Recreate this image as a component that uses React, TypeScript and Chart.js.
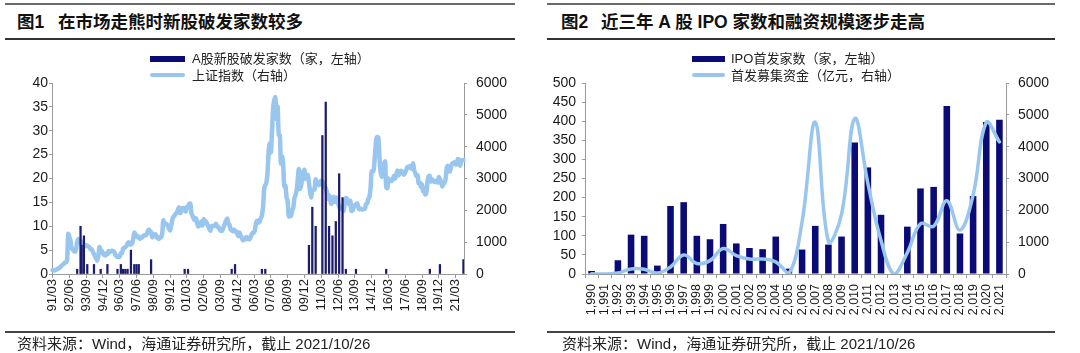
import React, { useEffect, useRef } from 'react';
import { Chart, registerables } from 'chart.js';

Chart.register(...registerables);

const LATIN = "'Liberation Sans', Arial, sans-serif";
const MIXED = "'Liberation Sans', 'Noto Sans CJK SC', sans-serif";

const NAVY = '#0b0b78';
const NAVY_THIN = '#1c1c6e';
const LIGHT_BLUE = '#99c6ee';
const AXIS_GREY = '#9a9a9a';
const TEXT = '#1a1a1a';

// ---------------- Figure 1 data ----------------
const fig1FirstMonth = { year: 1991, month: 3 };
const fig1LastMonth = { year: 2021, month: 10 };
const fig1LabelEvery = 15;

function buildMonthLabels(): string[] {
  const out: string[] = [];
  let y = fig1FirstMonth.year;
  let m = fig1FirstMonth.month;
  while (y < fig1LastMonth.year || (y === fig1LastMonth.year && m <= fig1LastMonth.month)) {
    out.push(String(y % 100).padStart(2, '0') + '/' + String(m).padStart(2, '0'));
    m += 1;
    if (m > 12) { m = 1; y += 1; }
  }
  return out;
}
const fig1Months = buildMonthLabels();

// 上证指数, monthly, 1991/03 .. 2021/10
const sseIndex: number[] = [
  125, 115, 112, 136, 145, 180, 180, 218, 260, 292,
  313, 364, 371, 445, 1266, 1168, 1048, 820, 780, 720, 700, 780,
  1000, 1100, 1000, 1050, 980, 960, 900, 880, 900, 880, 870, 833,
  780, 770, 700, 620, 560, 480, 420, 600, 850, 750, 720, 650,
  600, 580, 650, 620, 720, 680, 720, 730, 720, 700, 620, 555,
  540, 540, 550, 650, 650, 800, 820, 850, 880, 960, 1000, 917,
  930, 960, 1100, 1300, 1250, 1200, 1150, 1180, 1100, 1150, 1150, 1194,
  1220, 1210, 1240, 1340, 1400, 1340, 1320, 1150, 1250, 1220, 1250, 1147,
  1130, 1100, 1160, 1150, 1300, 1690, 1600, 1580, 1560, 1510, 1420, 1367,
  1530, 1714, 1800, 1836, 1894, 1928, 2023, 2100, 1910, 1960, 2070, 2073,
  2065, 1960, 2110, 2120, 2214, 2218, 1920, 1834, 1740, 1690, 1750, 1646,
  1490, 1520, 1600, 1650, 1520, 1730, 1660, 1650, 1580, 1510, 1430, 1357,
  1500, 1510, 1510, 1520, 1580, 1490, 1480, 1420, 1370, 1350, 1400, 1497,
  1590, 1680, 1740, 1590, 1550, 1400, 1390, 1340, 1400, 1320, 1340, 1266,
  1190, 1300, 1180, 1160, 1060, 1080, 1080, 1160, 1155, 1090, 1100, 1161,
  1260, 1300, 1300, 1440, 1640, 1670, 1610, 1660, 1750, 1840, 2100, 2675,
  2790, 2880, 3180, 3840, 4110, 3820, 4470, 5220, 5450, 5560, 4870, 5260,
  4380, 4350, 3470, 3690, 3430, 2740, 2780, 2400, 2290, 1800, 1870, 1820,
  1990, 2080, 2370, 2480, 2630, 2960, 3300, 2670, 2780, 2990, 3200, 3277,
  2990, 3050, 3110, 2870, 2590, 2400, 2640, 2640, 2660, 2980, 2820, 2810,
  2790, 2900, 2930, 2910, 2740, 2760, 2700, 2570, 2360, 2470, 2330, 2200,
  2290, 2430, 2260, 2400, 2370, 2230, 2100, 2050, 2090, 2070, 1980, 2270,
  2390, 2360, 2240, 2180, 2300, 1980, 1990, 2100, 2170, 2140, 2220, 2116,
  2030, 2060, 2030, 2030, 2040, 2050, 2200, 2220, 2360, 2420, 2680, 3230,
  3210, 3310, 3750, 4200, 4300, 4280, 3660, 3210, 3050, 3380, 3450, 3540,
  2740, 2690, 3000, 2940, 2920, 2930, 2980, 3090, 3000, 3100, 3250, 3100,
  3160, 3240, 3220, 3150, 3120, 3190, 3270, 3360, 3350, 3390, 3320, 3307,
  3480, 3260, 3170, 3080, 3100, 2850, 2880, 2730, 2820, 2600, 2590, 2494,
  2580, 2940, 3090, 3080, 2900, 2980, 2930, 2890, 2910, 2930, 2870, 3050,
  2980, 2880, 2750, 2860, 2850, 2980, 3310, 3400, 3220, 3220, 3390, 3473,
  3480, 3510, 3440, 3450, 3610, 3590, 3400, 3540, 3570, 3580,
];

// A股新股破发家数 (only months with breaks)
const brokenIpoMonths = [
  '93/01', '93/04', '93/05', '93/07', '93/10', '94/04', '94/10', '95/04',
  '96/01', '96/04', '96/06', '96/08', '96/10', '97/01', '97/04', '97/06',
  '97/08', '98/07', '01/01', '01/04', '04/07', '04/10', '06/10', '07/01',
  '10/04', '10/07', '10/10', '11/04', '11/07', '11/10', '12/01', '12/04',
  '12/07', '12/10', '13/01', '13/10', '16/01', '19/04', '20/01', '21/10',
];
const brokenIpoCounts = [
  1, 10, 6, 8, 2, 2, 1, 2,
  1, 2, 1, 1, 1, 5, 2, 2,
  2, 3, 1, 1, 1, 2, 1, 1,
  6, 14, 10, 29, 36, 10, 8, 11,
  21, 16, 1, 1, 1, 1, 2, 3,
];

const fig1LeftAxis = { min: 0, max: 40, step: 5 };
const fig1RightAxis = { min: 0, max: 6000, step: 1000 };

// ---------------- Figure 2 data ----------------
const fig2Years = [
  1990, 1991, 1992, 1993, 1994, 1995, 1996, 1997, 1998, 1999, 2000,
  2001, 2002, 2003, 2004, 2005, 2006, 2007, 2008, 2009, 2010, 2011,
  2012, 2013, 2014, 2015, 2016, 2017, 2018, 2019, 2020, 2021,
];
// IPO首发家数（家）
const ipoCounts = [
  8, 1, 36, 103, 100, 22, 178, 188, 100, 91, 131,
  80, 68, 65, 98, 14, 64, 126, 77, 98, 344, 279,
  155, 0, 124, 224, 228, 440, 106, 204, 398, 404,
];
// 首发募集资金（亿元）
const ipoFunds = [
  5, 0, 30, 160, 150, 30, 220, 600, 330, 420, 800,
  580, 470, 470, 380, 20, 1640, 4770, 1030, 1880, 4880, 2850,
  1050, 0, 670, 1580, 1500, 2300, 1380, 2480, 4760, 4150,
];
const fig2LeftAxis = { min: 0, max: 500, step: 50 };
const fig2RightAxis = { min: 0, max: 6000, step: 1000 };

function yearLabel(y: number): string {
  return Math.floor(y / 1000) + ',' + String(y % 1000).padStart(3, '0');
}

const tickFont = (size: number) => ({ family: LATIN, size });
const plainNumber = (v: any) => String(v);

function fixWidth(w: number) {
  return (scale: any) => {
    scale.width = w;
    scale.paddingTop = 0;
    scale.paddingBottom = 0;
  };
}
function fixHeight(h: number) {
  return (scale: any) => {
    scale.height = h;
    scale.paddingLeft = 0;
    scale.paddingRight = 0;
  };
}

function yAxis(position: string, range: any, width: number, padding: number) {
  return {
    position,
    min: range.min,
    max: range.max,
    afterFit: fixWidth(width),
    border: { display: true, color: AXIS_GREY, width: 1 },
    grid: { drawOnChartArea: false, tickLength: 3, color: AXIS_GREY },
    ticks: {
      stepSize: range.step,
      autoSkip: false,
      padding,
      color: TEXT,
      font: tickFont(14),
      callback: plainNumber,
    },
  };
}

function Figure1Chart() {
  const ref = useRef<HTMLCanvasElement>(null);
  useEffect(() => {
    if (!ref.current) return;
    const bars: (number | null)[] = fig1Months.map(() => null);
    brokenIpoMonths.forEach((lab, i) => {
      const idx = fig1Months.indexOf(lab);
      if (idx >= 0) bars[idx] = brokenIpoCounts[i];
    });
    const chart = new Chart(ref.current, {
      type: 'bar',
      data: {
        labels: fig1Months,
        datasets: [
          {
            type: 'bar',
            label: 'A股新股破发家数（家，左轴）',
            data: bars,
            backgroundColor: NAVY_THIN,
            barThickness: 1.6,
            yAxisID: 'yL',
            order: 0,
          },
          {
            type: 'line',
            label: '上证指数（右轴）',
            data: sseIndex,
            borderColor: LIGHT_BLUE,
            borderWidth: 4.5,
            pointRadius: 0,
            tension: 0.4,
            cubicInterpolationMode: 'monotone',
            borderJoinStyle: 'round',
            borderCapStyle: 'round',
            yAxisID: 'yR',
            order: 1,
          },
        ],
      },
      options: {
        responsive: false,
        animation: false,
        events: [],
        layout: { padding: { top: 13, left: 0, right: 0, bottom: 0 } },
        plugins: { legend: { display: false }, tooltip: { enabled: false } },
        scales: {
          x: {
            type: 'category',
            afterFit: fixHeight(58),
            afterBuildTicks: (scale: any) => {
              scale.ticks = scale.ticks.filter((t: any) => t.value % fig1LabelEvery === 0);
            },
            border: { display: true, color: AXIS_GREY, width: 1 },
            grid: {
              display: true,
              drawOnChartArea: false,
              drawTicks: true,
              tickLength: 4,
              offset: false,
              color: AXIS_GREY,
            },
            ticks: {
              autoSkip: false,
              minRotation: 90,
              maxRotation: 90,
              padding: 1,
              color: TEXT,
              font: tickFont(13),
              callback: (v: any) => fig1Months[v],
            },
          },
          yL: yAxis('left', fig1LeftAxis, 52, 1),
          yR: yAxis('right', fig1RightAxis, 76, 9),
        },
      },
    } as any);
    return () => chart.destroy();
  }, []);
  return <canvas ref={ref} width={540} height={262} style={{ display: 'block' }} />;
}

function Figure2Chart() {
  const ref = useRef<HTMLCanvasElement>(null);
  useEffect(() => {
    if (!ref.current) return;
    const chart = new Chart(ref.current, {
      type: 'bar',
      data: {
        labels: fig2Years.map(yearLabel),
        datasets: [
          {
            type: 'bar',
            label: 'IPO首发家数（家，左轴）',
            data: ipoCounts,
            backgroundColor: NAVY,
            barPercentage: 0.5,
            categoryPercentage: 1,
            yAxisID: 'yL',
            order: 1,
          },
          {
            type: 'line',
            label: '首发募集资金（亿元，右轴）',
            data: ipoFunds,
            borderColor: LIGHT_BLUE,
            borderWidth: 3.5,
            pointRadius: 0,
            tension: 0.4,
            borderJoinStyle: 'round',
            borderCapStyle: 'round',
            yAxisID: 'yR',
            order: 0,
          },
        ],
      },
      options: {
        responsive: false,
        animation: false,
        events: [],
        layout: { padding: { top: 13, left: 0, right: 0, bottom: 0 } },
        plugins: { legend: { display: false }, tooltip: { enabled: false } },
        scales: {
          x: {
            type: 'category',
            afterFit: fixHeight(58),
            border: { display: true, color: AXIS_GREY, width: 1 },
            grid: { display: true, drawOnChartArea: false, tickLength: 4, color: AXIS_GREY },
            ticks: {
              autoSkip: false,
              minRotation: 90,
              maxRotation: 90,
              padding: 6,
              color: TEXT,
              font: tickFont(12.5),
            },
          },
          yL: yAxis('left', fig2LeftAxis, 45, 6),
          yR: yAxis('right', fig2RightAxis, 74, 9),
        },
      },
    } as any);
    return () => chart.destroy();
  }, []);
  return <canvas ref={ref} width={540} height={262} style={{ display: 'block' }} />;
}

const abs = (s: React.CSSProperties): React.CSSProperties => ({ position: 'absolute', ...s });

function Rule({ left, width, top, height, color }: { left: number; width: number; top: number; height: number; color: string }) {
  return <div style={abs({ left, width, top, height, background: color })} />;
}

function Text({ left, centerY, size, bold, children, color }: any) {
  const h = Math.round(size * 1.6);
  return (
    <div
      style={abs({
        left,
        top: centerY - h / 2,
        height: h,
        lineHeight: h + 'px',
        fontSize: size,
        fontFamily: MIXED,
        fontWeight: bold ? 700 : 400,
        color: color || '#222',
        whiteSpace: 'pre',
      })}
    >
      {children}
    </div>
  );
}

export default function App() {
  useEffect(() => {
    document.body.style.margin = '0';
  }, []);
  return (
    <div style={{ position: 'fixed', left: 0, top: 0, width: 1080, height: 353, background: '#fff', overflow: 'hidden' }}>
      {/* Panel 1 */}
      <Rule left={5} width={510} top={3} height={2} color="#6a6a6a" />
      <Text left={17} centerY={22} size={17.5} bold color="#111">图1</Text>
      <Text left={58} centerY={22} size={17.5} bold color="#111">在市场走熊时新股破发家数较多</Text>
      <Rule left={5} width={510} top={38} height={2} color="#333" />
      <div style={abs({ left: 0, top: 70, width: 540, height: 262 })}>
        <Figure1Chart />
      </div>
      <div style={abs({ left: 150, top: 55.5, width: 35, height: 6, background: NAVY })} />
      <Text left={192} centerY={58.5} size={13}>A股新股破发家数（家，左轴）</Text>
      <div style={abs({ left: 150, top: 73, width: 35, height: 4, background: LIGHT_BLUE, borderRadius: 2 })} />
      <Text left={192} centerY={75.5} size={13}>上证指数（右轴）</Text>
      <Rule left={5} width={510} top={331} height={2} color="#444" />
      <Text left={17} centerY={344} size={15} color="#222">资料来源：Wind，海通证券研究所，截止 2021/10/26</Text>

      {/* Panel 2 */}
      <Rule left={547} width={508} top={3} height={2} color="#6a6a6a" />
      <Text left={561} centerY={22} size={17.5} bold color="#111">图2</Text>
      <Text left={601} centerY={22} size={17.5} bold color="#111">近三年 A 股 IPO 家数和融资规模逐步走高</Text>
      <Rule left={547} width={508} top={38} height={2} color="#333" />
      <div style={abs({ left: 540, top: 70, width: 540, height: 262 })}>
        <Figure2Chart />
      </div>
      <div style={abs({ left: 692, top: 55.5, width: 33, height: 6, background: NAVY })} />
      <Text left={731} centerY={58.5} size={13}>IPO首发家数（家，左轴）</Text>
      <div style={abs({ left: 692, top: 73, width: 33, height: 4, background: LIGHT_BLUE, borderRadius: 2 })} />
      <Text left={731} centerY={75.5} size={13}>首发募集资金（亿元，右轴）</Text>
      <Rule left={547} width={508} top={331} height={2} color="#444" />
      <Text left={562} centerY={344} size={15} color="#222">资料来源：Wind，海通证券研究所，截止 2021/10/26</Text>
    </div>
  );
}
